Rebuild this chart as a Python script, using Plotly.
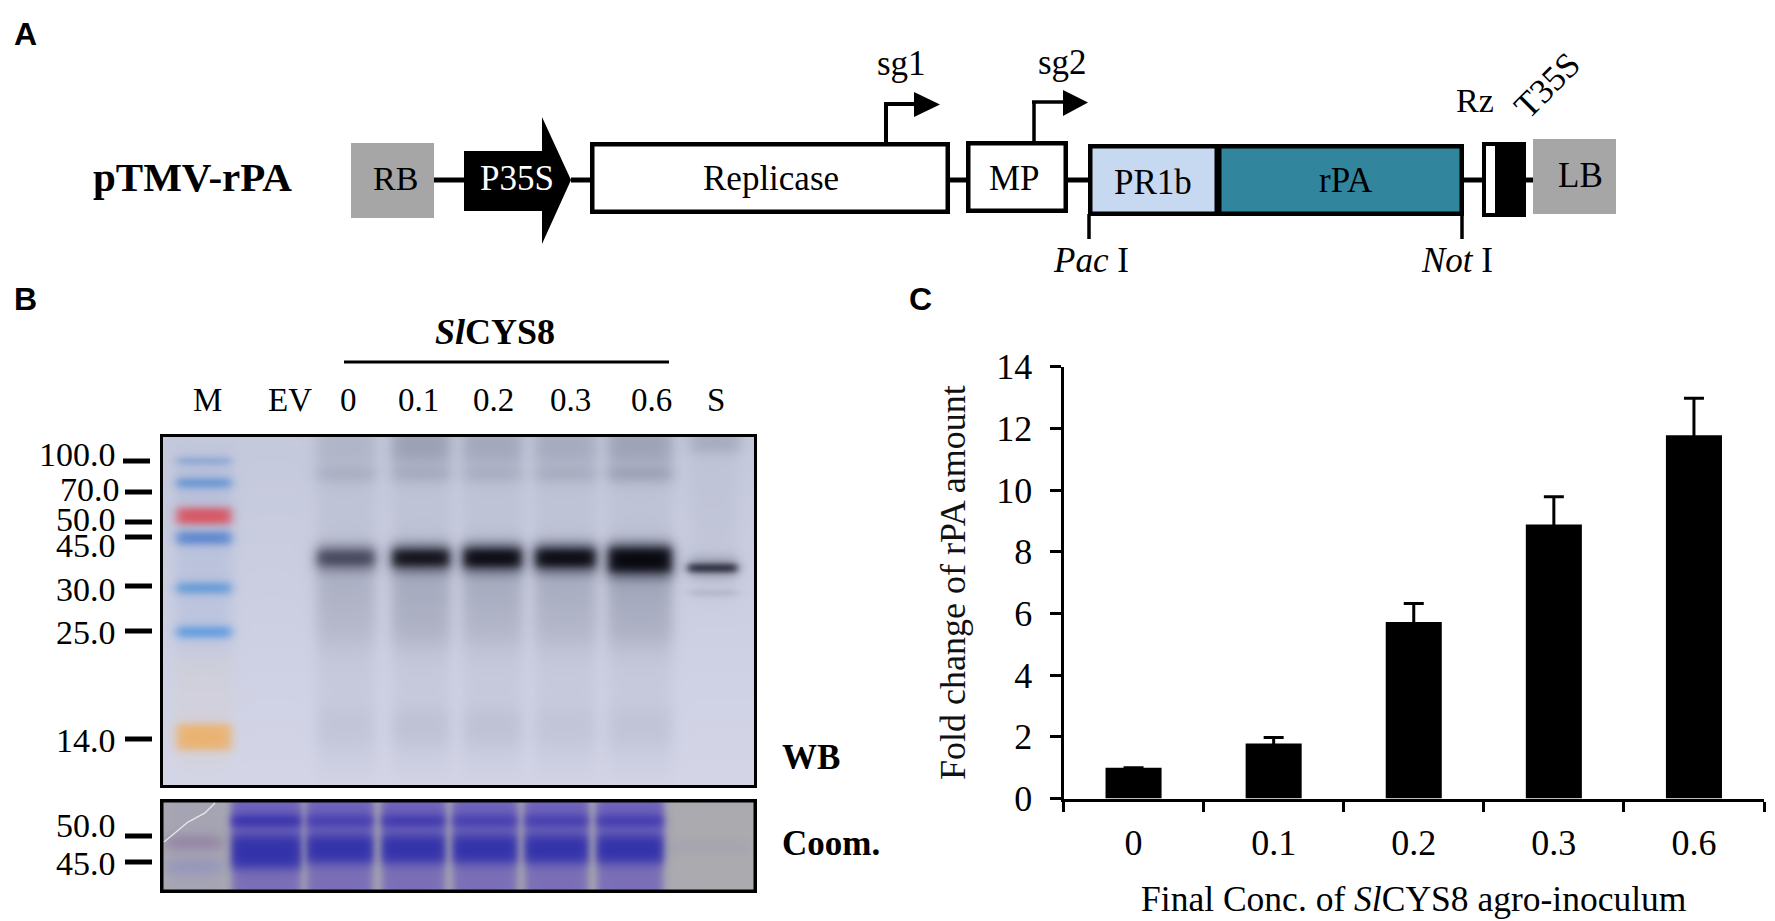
import base64, struct, zlib
import numpy as np
import plotly.graph_objects as go

# ---------- Panel C data ----------
concentrations = ["0", "0.1", "0.2", "0.3", "0.6"]
fold_change = [1.0, 1.78, 5.72, 8.88, 11.78]
fold_error = [None, 0.2, 0.6, 0.9, 1.2]
y_ticks = [0, 2, 4, 6, 8, 10, 12, 14]

# ---------- Panel B labels ----------
lane_labels = ["M", "EV", "0", "0.1", "0.2", "0.3", "0.6", "S"]
lane_label_x = [207, 290, 348, 418, 493, 570, 651, 716]
wb_markers = ["100.0", "70.0", "50.0", "45.0", "30.0", "25.0", "14.0"]
wb_marker_tick_y = [461, 492, 522, 537, 586, 631, 739]
wb_marker_base_y = [467, 502, 532, 558, 602, 645, 753]
coom_markers = ["50.0", "45.0"]
coom_marker_tick_y = [836, 862]
coom_marker_base_y = [838, 876]

# ---------- Panel B blot readings ----------
wb_lane_left = [317, 392, 463, 535, 608]
wb_lane_right = [375, 450, 522, 596, 672]
wb_main_strength = [0.74, 0.96, 1.0, 1.0, 1.0]
wb_main_half = [7, 8, 9, 9, 12]
wb_top_haze = [0.14, 0.34, 0.27, 0.24, 0.32]
wb_upper_band = [0.24, 0.28, 0.24, 0.26, 0.40]
wb_low_haze = [0.26, 0.34, 0.32, 0.30, 0.38]
wb_25k_haze = [0.10, 0.16, 0.12, 0.12, 0.17]
wb_14k_band = [0.06, 0.09, 0.09, 0.06, 0.07]
ladder_y = [461, 483, 516, 538, 588, 632, 737]
ladder_half = [1.2, 4, 8, 6, 5, 5, 13]
ladder_rgb = [(90, 135, 205), (85, 140, 210), (218, 80, 92), (85, 130, 205),
              (90, 150, 215), (85, 150, 225), (236, 178, 110)]
coom_lane_left = [232, 307, 382, 453, 525, 597]
coom_lane_right = [301, 373, 445, 517, 588, 663]
coom_top_strength = [0.95, 0.7, 0.8, 0.7, 0.7, 0.75]

SERIF = "Liberation Serif"
SANS = "Liberation Sans"
W, H = 1775, 921


def png_uri(arr):
    arr = np.clip(arr, 0, 255).astype(np.uint8)
    h, w, _ = arr.shape
    raw = b"".join(b"\x00" + arr[i].tobytes() for i in range(h))

    def chunk(tag, data):
        return (struct.pack(">I", len(data)) + tag + data +
                struct.pack(">I", zlib.crc32(tag + data) & 0xffffffff))
    png = (b"\x89PNG\r\n\x1a\n" +
           chunk(b"IHDR", struct.pack(">IIBBBBB", w, h, 8, 2, 0, 0, 0)) +
           chunk(b"IDAT", zlib.compress(raw, 9)) + chunk(b"IEND", b""))
    return "data:image/png;base64," + base64.b64encode(png).decode()


def soft_box(coord, a, b, soft):
    return (1 / (1 + np.exp((a - coord) / soft))) * (1 / (1 + np.exp((coord - b) / soft)))


def paint(img, mask, rgb):
    m = np.clip(mask, 0, 1)[..., None]
    img[:] = img * (1 - m) + np.array(rgb, float) * m


# ----- western blot raster -----
X0, X1, Y0, Y1 = 160, 757, 434, 788
xs = np.arange(X0, X1) + 0.5
ys = np.arange(Y0, Y1) + 0.5
XX, YY = np.meshgrid(xs, ys)
wb = np.zeros((len(ys), len(xs), 3))
t = ((YY - Y0) / (Y1 - Y0))[..., None]
wb[:] = np.array((197, 201, 220.0)) * (1 - t) + np.array((212, 214, 232.0)) * t

# ladder smear and bands
paint(wb, 0.18 * soft_box(XX, 175, 232, 4) * soft_box(YY, 455, 650, 8), (120, 150, 205))
paint(wb, 0.10 * soft_box(XX, 175, 232, 4) * soft_box(YY, 650, 770, 8), (220, 190, 140))
for yc, half, rgb in zip(ladder_y, ladder_half, ladder_rgb):
    paint(wb, 0.97 * soft_box(XX, 177, 231, 3) * soft_box(YY, yc - half, yc + half, 2.4), rgb)

HAZE = (85, 90, 112)
for i in range(len(wb_lane_left)):
    lane = soft_box(XX, wb_lane_left[i], wb_lane_right[i], 4)
    paint(wb, 0.07 * lane * soft_box(YY, 434, 770, 10), HAZE)
    paint(wb, wb_top_haze[i] * lane * soft_box(YY, 425, 462, 5), HAZE)
    paint(wb, wb_upper_band[i] * lane * soft_box(YY, 468, 480, 4), HAZE)
    paint(wb, wb_low_haze[i] * lane * soft_box(YY, 566, 612, 14), HAZE)
    paint(wb, wb_25k_haze[i] * lane * soft_box(YY, 615, 645, 8), HAZE)
    paint(wb, wb_14k_band[i] * lane * soft_box(YY, 710, 745, 6), HAZE)
    yc = 560 if i == 4 else 558
    s = wb_main_strength[i]
    paint(wb, 0.55 * s * lane * soft_box(YY, yc - wb_main_half[i] - 7, yc + wb_main_half[i] + 8, 3.5), (70, 74, 96))
    core = soft_box(XX, wb_lane_left[i] + 1, wb_lane_right[i] - 1, 3) * \
        soft_box(YY, yc - wb_main_half[i], yc + wb_main_half[i], 2.8)
    paint(wb, s * core, (6, 6, 14) if s > 0.9 else (38, 40, 60))

# standard lane S
laneS = soft_box(XX, 690, 737, 4)
paint(wb, 0.28 * soft_box(XX, 690, 740, 4) * soft_box(YY, 430, 452, 4), HAZE)
paint(wb, 0.06 * laneS * soft_box(YY, 452, 600, 8), HAZE)
paint(wb, 0.30 * laneS * soft_box(YY, 556, 578, 3), HAZE)
paint(wb, 0.90 * soft_box(XX, 688, 737, 2.5) * soft_box(YY, 564, 572, 1.8), (20, 20, 36))
paint(wb, 0.18 * laneS * soft_box(YY, 590, 596, 1.5), HAZE)

# ----- Coomassie raster -----
CX0, CX1, CY0, CY1 = 160, 757, 799, 893
cxs = np.arange(CX0, CX1) + 0.5
cys = np.arange(CY0, CY1) + 0.5
CXX, CYY = np.meshgrid(cxs, cys)
coom = np.zeros((len(cys), len(cxs), 3))
coom[:] = (171, 171, 176)
marker_lane = soft_box(CXX, 166, 222, 4)
paint(coom, 0.25 * marker_lane, (150, 145, 190))
paint(coom, 0.55 * marker_lane * soft_box(CYY, 836, 849, 3), (135, 105, 150))
paint(coom, 0.40 * marker_lane * soft_box(CYY, 860, 874, 3), (125, 130, 200))
paint(coom, 0.10 * soft_box(CXX, 668, 750, 4) * soft_box(CYY, 840, 853, 3), (120, 110, 170))
for left, right, top in zip(coom_lane_left, coom_lane_right, coom_top_strength):
    lane = soft_box(CXX, left, right, 2.5)
    paint(coom, 0.8 * lane, (112, 96, 185))
    paint(coom, 0.55 * lane * soft_box(CYY, 800, 833, 4), (95, 85, 190))
    paint(coom, top * lane * soft_box(CYY, 816, 826, 2.6), (48, 42, 170))
    paint(coom, 0.96 * lane * soft_box(CYY, 835, 863 + (5 if left == 232 else 0), 3.4), (47, 47, 170))

shapes = []
annotations = []
images = []


def fx(x):
    return x / W


def fy(y):
    return 1 - y / H


def line(x0, y0, x1, y1, width=4, color="black"):
    shapes.append(dict(type="line", xref="paper", yref="paper", x0=fx(x0), y0=fy(y0), x1=fx(x1), y1=fy(y1),
                       line=dict(color=color, width=width)))


def box(x0, y0, x1, y1, fill="white", lw=4):
    inset = lw / 2
    shapes.append(dict(type="rect", xref="paper", yref="paper", x0=fx(x0 + inset), y0=fy(y0 + inset),
                       x1=fx(x1 - inset), y1=fy(y1 - inset), fillcolor=fill,
                       line=dict(color="black", width=lw) if lw else dict(width=0)))


def poly(points, fill=None, color=None, width=0):
    path = "M " + " L ".join(f"{fx(a):.5f},{fy(b):.5f}" for a, b in points)
    if fill:
        path += " Z"
    shape = dict(type="path", xref="paper", yref="paper", path=path,
                 line=dict(width=width, color=color or "black"))
    if fill:
        shape["fillcolor"] = fill
    shapes.append(shape)


def text(x, base, s, size=34, anchor="center", color="black", family=SERIF):
    annotations.append(dict(xref="paper", yref="paper", x=fx(x), y=fy(base + 0.216 * size + 1), text=s,
                            showarrow=False, xanchor=anchor, yanchor="bottom",
                            font=dict(family=family, size=size, color=color)))


def raster(arr, x0, y0):
    images.append(dict(source=png_uri(arr), xref="paper", yref="paper", x=fx(x0), y=fy(y0),
                       sizex=arr.shape[1] / W, sizey=arr.shape[0] / H, sizing="stretch",
                       xanchor="left", yanchor="top", layer="below"))


raster(wb, X0, Y0)
raster(coom, CX0, CY0)

# ---------- Panel A ----------
GREY = "#a6a6a6"
text(12, 46, "<b>A</b>", 32, "left", family=SANS)
text(192, 192, "<b>pTMV-rPA</b>", 41)
for a, b in [(434, 464), (571, 590), (950, 967), (1067, 1089), (1462, 1482), (1526, 1534)]:
    line(a, 180, b, 180, 5)
box(351, 143, 434, 218, GREY, 0)
text(395, 191, "RB", 34)
poly([(464, 151), (542, 151), (542, 117), (571, 180), (542, 244), (542, 211), (464, 211)], "black")
text(517, 191, "P35S", 35, color="white")
box(590, 142, 950, 214, lw=4.5)
text(771, 191, "Replicase", 35)
line(886, 143, 886, 104, 4)
line(884, 104, 916, 104, 4)
poly([(914, 92), (940, 104.5), (914, 117)], "black")
text(902, 76, "sg1", 35)
line(1034, 141, 1034, 102, 3.5)
line(1032, 102, 1065, 102, 3.5)
poly([(1063, 90), (1088, 102.5), (1063, 116)], "black")
text(1062, 75, "sg2", 35)
box(966, 141, 1068, 213, lw=4.5)
text(1014, 191, "MP", 35)
box(1088, 144, 1219, 216, "#c6d9f1", lw=4.5)
text(1153, 195, "PR1b", 35)
box(1217, 144, 1464, 216, "#31859c", lw=4.5)
text(1346, 193, "rPA", 35)
line(1089, 214, 1089, 239, 3.5)
line(1462, 214, 1462, 239, 3.5)
text(1091, 273, "<i>Pac</i> I", 35)
text(1457, 273, "<i>Not</i> I", 35)
box(1482, 142, 1511, 217)
box(1495, 142, 1526, 217, "black", 0)
box(1533, 139, 1616, 214, GREY, 0)
text(1580, 188, "LB", 35)
text(1475, 113, "Rz", 34)
annotations.append(dict(xref="paper", yref="paper", x=fx(1547), y=fy(85), text="T35S", textangle=-45,
                        xanchor="center", yanchor="middle", showarrow=False,
                        font=dict(family=SERIF, size=35, color="black")))

# ---------- Panel B ----------
text(12, 311, "<b>B</b>", 32, "left", family=SANS)
text(495, 345, "<b><i>Sl</i>CYS8</b>", 36)
line(344, 362, 669, 362, 3)
for name, x in zip(lane_labels, lane_label_x):
    text(x, 412, name, 33)
for name, ty, by in zip(wb_markers, wb_marker_tick_y, wb_marker_base_y):
    right = 122 if name == "70.0" else 118
    text(right, by, name, 34, "right")
    line(123 if name == "100.0" else 125, ty, 150 if name == "100.0" else 152, ty, 5)
for name, ty, by in zip(coom_markers, coom_marker_tick_y, coom_marker_base_y):
    text(118, by, name, 34, "right")
    line(125, ty, 152, ty, 5)
box(160, 434, 757, 788, "rgba(0,0,0,0)", 3)
box(160, 799, 757, 893, "rgba(0,0,0,0)", 3.5)
poly([(215, 803), (205, 813), (188, 822), (164, 842)], color="#e4e4e8", width=1.5)
text(780, 770, "<b>WB</b>", 35, "left")
text(780, 856, "<b>Coom.</b>", 35, "left")

# ---------- Panel C ----------
text(907, 311, "<b>C</b>", 32, "left", family=SANS)

fig = go.Figure()
fig.add_trace(go.Bar(x=concentrations, y=fold_change,
                     marker=dict(color="black", line=dict(width=0)), width=0.4,
                     error_y=dict(type="data", array=fold_error, color="black",
                                  thickness=3, width=10)))
tick_font = dict(family=SERIF, size=36, color="black")
fig.update_layout(
    width=W, height=H, margin=dict(l=0, r=0, t=0, b=0), autosize=False,
    paper_bgcolor="white", plot_bgcolor="rgba(0,0,0,0)", showlegend=False,
    shapes=shapes, annotations=annotations, images=images,
    xaxis=dict(domain=[1063.5 / W, 1764 / W], anchor="y", type="category", automargin=False,
               categoryorder="array", categoryarray=concentrations,
               tickson="boundaries", ticks="outside", ticklen=10, tickwidth=2.5,
               tickcolor="black", showline=True, linecolor="black", linewidth=3,
               showgrid=False, tickfont=tick_font, ticklabelstandoff=10,
               title=dict(text="Final Conc. of <i>Sl</i>CYS8 agro-inoculum",
                          font=dict(family=SERIF, size=35.5, color="black"), standoff=25)),
    yaxis=dict(domain=[1 - 798.5 / H, 1 - 366.7 / H], anchor="x", range=[0, 14], automargin=False,
               tickvals=y_ticks, ticks="outside", ticklen=11, tickwidth=2.5,
               tickcolor="black", showline=True, linecolor="black", linewidth=3,
               showgrid=False, zeroline=False, tickfont=tick_font, ticklabelstandoff=10,
               title=dict(text="Fold change of rPA amount",
                          font=dict(family=SERIF, size=36, color="#111111"), standoff=20)),
)
fig.write_html("out.html", config=dict(displayModeBar=False),
               post_script="document.body.style.margin='0';document.body.style.overflow='hidden';")
